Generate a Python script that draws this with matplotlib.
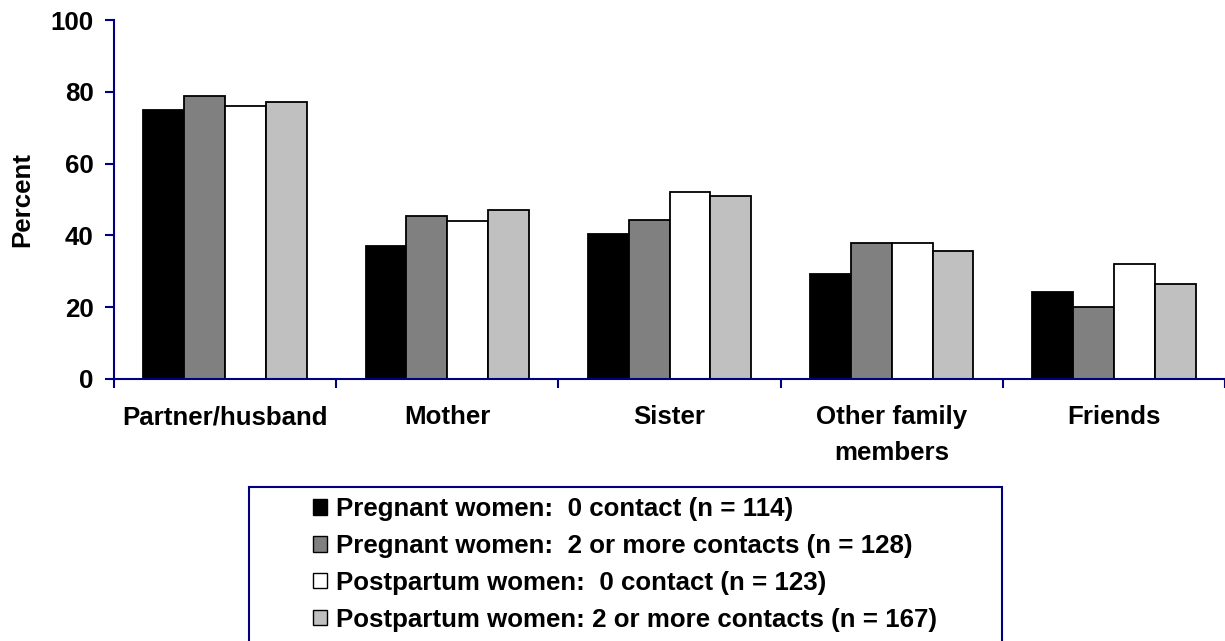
import numpy as np
import matplotlib
matplotlib.use('Agg')
import matplotlib.pyplot as plt
from matplotlib.patches import Patch, Rectangle

plt.rcParams['font.family'] = ['Liberation Sans', 'DejaVu Sans']

categories = ["Partner/husband", "Mother", "Sister", "Other family\nmembers", "Friends"]
series_labels = [
    "Pregnant women:  0 contact (n = 114)",
    "Pregnant women:  2 or more contacts (n = 128)",
    "Postpartum women:  0 contact (n = 123)",
    "Postpartum women: 2 or more contacts (n = 167)",
]
pregnant_0 = [75, 37, 40.5, 29.3, 24.2]
pregnant_2 = [78.9, 45.4, 44.3, 38, 20.1]
postpartum_0 = [76, 44.1, 52.1, 38, 31.9]
postpartum_2 = [77.2, 47, 51, 35.7, 26.4]
series = [pregnant_0, pregnant_2, postpartum_0, postpartum_2]
colors = ["#000000", "#808080", "#ffffff", "#c0c0c0"]
yticks = [0, 20, 40, 60, 80, 100]

navy = "#000080"
fs = 18.6

fig = plt.figure(figsize=(12.25, 6.41), dpi=100)
ax = fig.add_axes([114 / 1225, 1 - 379 / 641, 1 - 114 / 1225, 359 / 641])

x = np.arange(len(categories)) + 0.5
w = 0.184
for i, (vals, c) in enumerate(zip(series, colors)):
    ax.bar(x + (i - 1.5) * w, vals, width=w, color=c, edgecolor="black",
           linewidth=1.3, label=series_labels[i], zorder=2)

ax.set_xlim(0, len(categories))
ax.set_ylim(0, 100)
ax.set_yticks(yticks)
ax.set_yticklabels([str(v) for v in yticks], fontsize=fs, fontweight="bold")
ax.set_xticks(x)
ax.set_xticklabels(categories, fontsize=fs, fontweight="bold", linespacing=1.6)
ax.set_xticks(np.arange(len(categories) + 1), minor=True)
ax.tick_params(axis="x", which="major", length=0, pad=19)
ax.tick_params(axis="x", which="minor", length=6.5, width=1.5, color=navy, direction="out")
ax.tick_params(axis="y", length=6.5, width=1.5, color=navy, pad=8)

for s in ["top", "right"]:
    ax.spines[s].set_visible(False)
for s in ["left", "bottom"]:
    ax.spines[s].set_color(navy)
    ax.spines[s].set_linewidth(1.5)
    ax.spines[s].set_zorder(3)

ax.set_ylabel("Percent", fontsize=fs, fontweight="bold", labelpad=12)

handles = [Patch(facecolor=c, edgecolor="black", linewidth=1.0) for c in colors]
fig.legend(handles, series_labels, loc="upper left",
           bbox_to_anchor=(313 / 1225, 1 - 497 / 641),
           frameon=False, borderpad=0, borderaxespad=0,
           prop={"weight": "bold", "size": fs},
           handlelength=0.55, handleheight=0.55, handletextpad=0.35,
           labelspacing=0.5)

fig.patches.append(Rectangle((249 / 1225, -0.05), (1002 - 249) / 1225, 0.05 + 1 - 487 / 641,
                             transform=fig.transFigure, fill=False,
                             edgecolor=navy, linewidth=1.5))

fig.savefig("out.png", dpi=100)
